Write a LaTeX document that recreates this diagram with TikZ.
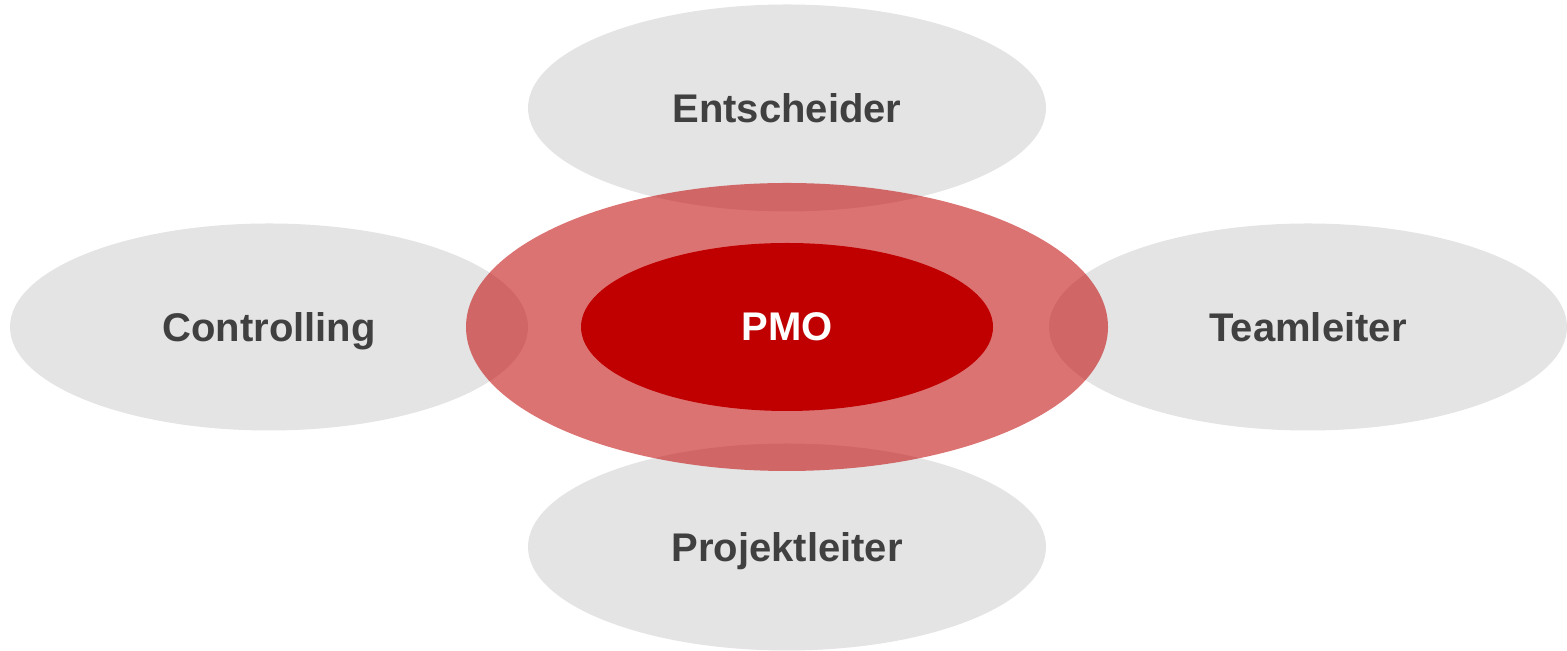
\documentclass[tikz,border=0pt]{standalone}
\usepackage{fontspec}
\setmainfont{Liberation Sans}
\usetikzlibrary{shapes.geometric}
\definecolor{bubble}{HTML}{E4E4E4}
\definecolor{pmored}{HTML}{C00000}
\definecolor{labelgray}{HTML}{404040}
\begin{document}
\begin{tikzpicture}[x=0.5pt,y=0.5pt,
  role/.style={ellipse,fill=bubble,draw=none,inner sep=0pt,minimum width=259pt,minimum height=103.5pt,
    text depth=0pt,font=\fontsize{20}{24}\selectfont\bfseries,text=labelgray},
  halo/.style={ellipse,fill=pmored,fill opacity=0.55,draw=none,inner sep=0pt,minimum width=321pt,minimum height=144pt},
  core/.style={ellipse,fill=pmored,draw=none,inner sep=0pt,minimum width=206pt,minimum height=84pt,
    text depth=0pt,font=\fontsize{20}{24}\selectfont\bfseries,text=white}]
\useasboundingbox (0,0) rectangle (1567,651);
\node[role] (ent) at (787,543) {Entscheider};
\node[role] (con) at (269,324) {Controlling};
\node[role] (team) at (1308,324) {Teamleiter};
\node[role] (proj) at (787,104) {Projektleiter};
\node[halo] (halo) at (787,324) {};
\node[core] (pmo) at (787,324) {PMO};
\end{tikzpicture}
\end{document}
